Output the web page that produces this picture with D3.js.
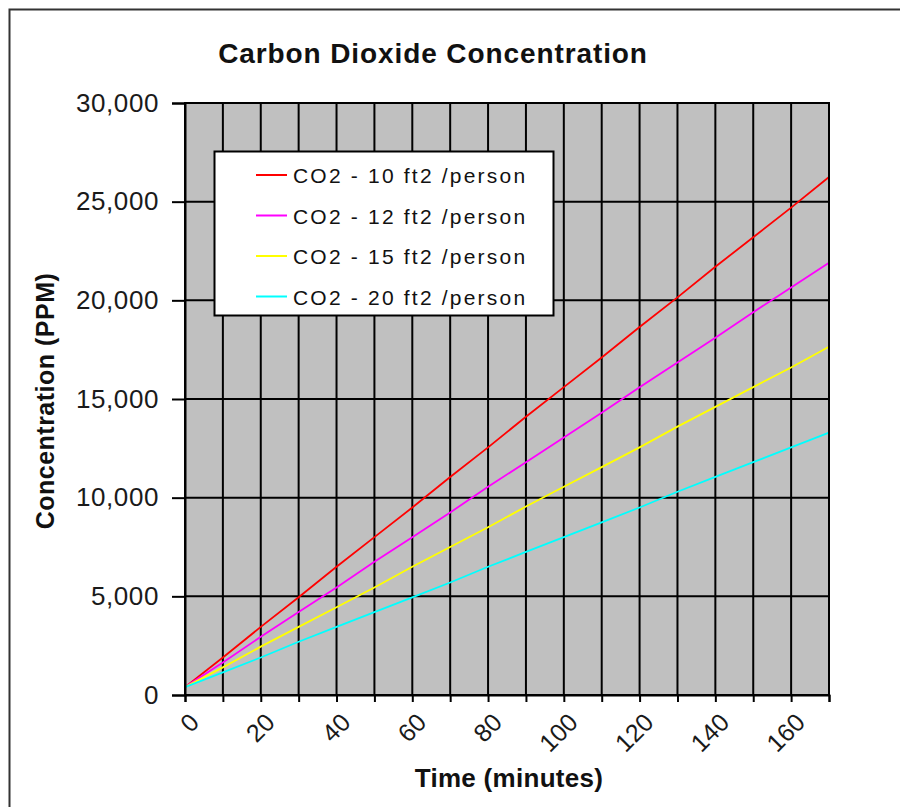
<!DOCTYPE html>
<html>
<head>
<meta charset="utf-8">
<script src="https://cdn.jsdelivr.net/npm/d3@7"></script>
<style>
  body { margin: 0; background: #fff; }
  svg { display: block; font-family: "Liberation Sans", Arial, sans-serif; }
</style>
</head>
<body>
<div id="chart"></div>
<script>
// time in minutes
var minutes = [0, 10, 20, 30, 40, 50, 60, 70, 80, 90, 100, 110, 120, 130, 140, 150, 160, 170];

// CO2 concentration (PPM)
var co2_10ft = [400, 1900, 3450, 4950, 6500, 8000, 9500, 11050, 12550, 14100, 15600, 17100, 18650, 20150, 21700, 23200, 24700, 26250];
var co2_12ft = [400, 1650, 2950, 4200, 5450, 6750, 8000, 9250, 10550, 11800, 13050, 14300, 15600, 16850, 18100, 19400, 20650, 21900];
var co2_15ft = [400, 1400, 2450, 3450, 4450, 5450, 6500, 7500, 8500, 9550, 10550, 11550, 12550, 13600, 14600, 15600, 16600, 17650];
var co2_20ft = [400, 1150, 1900, 2700, 3450, 4200, 4950, 5700, 6500, 7250, 8000, 8750, 9500, 10300, 11050, 11800, 12550, 13300];

var seriesNames = ["CO2 - 10 ft2 /person", "CO2 - 12 ft2 /person", "CO2 - 15 ft2 /person", "CO2 - 20 ft2 /person"];
var seriesColors = ["#ff0000", "#ff00ff", "#ffff00", "#00ffff"];

var yTicks = [0, 5000, 10000, 15000, 20000, 25000, 30000];
var xTicks = [0, 10, 20, 30, 40, 50, 60, 70, 80, 90, 100, 110, 120, 130, 140, 150, 160, 170];
var xLabels = [0, 20, 40, 60, 80, 100, 120, 140, 160];

function init(){

    var w = 900;
    var h = 807;
    var margin = {left: 185, right: 71, top: 103, bottom: 112};

    var svg = d3.select("#chart")
                .append("svg")
                .attr("width", w)
                .attr("height", h);

    // chart outer border (cut off at right and bottom in the source)
    svg.append("rect")
       .attr("x", 9.5).attr("y", 9.5)
       .attr("width", 950).attr("height", 900)
       .attr("fill", "#fff")
       .attr("stroke", "#333")
       .attr("stroke-width", 2);

    var x = d3.scaleLinear()
              .domain([0, 170])
              .range([margin.left, w - margin.right]);

    var y = d3.scaleLinear()
              .domain([0, 30000])
              .range([h - margin.bottom, margin.top]);

    // plot background
    svg.append("rect")
       .attr("x", x(0)).attr("y", y(30000))
       .attr("width", x(170) - x(0))
       .attr("height", y(0) - y(30000))
       .attr("fill", "#c0c0c0");

    // grid
    svg.append("g").selectAll("line")
       .data(xTicks)
       .enter().append("line")
       .attr("x1", function(d){ return x(d); })
       .attr("x2", function(d){ return x(d); })
       .attr("y1", y(0)).attr("y2", y(30000))
       .attr("stroke", "#000").attr("stroke-width", 2);

    svg.append("g").selectAll("line")
       .data(yTicks)
       .enter().append("line")
       .attr("x1", x(0)).attr("x2", x(170))
       .attr("y1", function(d){ return y(d); })
       .attr("y2", function(d){ return y(d); })
       .attr("stroke", "#000").attr("stroke-width", 2);

    // series
    var allSeries = [co2_10ft, co2_12ft, co2_15ft, co2_20ft];
    var line = d3.line()
                 .x(function(d, i){ return x(minutes[i]); })
                 .y(function(d){ return y(d); });

    svg.append("g").selectAll("path")
       .data(allSeries)
       .enter().append("path")
       .attr("d", line)
       .attr("fill", "none")
       .attr("stroke", function(d, i){ return seriesColors[i]; })
       .attr("stroke-width", 1.8);

    // axes
    var yAxis = d3.axisLeft(y)
                  .tickValues(yTicks)
                  .tickFormat(d3.format(","))
                  .tickSize(13)
                  .tickPadding(13);

    var gy = svg.append("g")
                .attr("transform", "translate(" + x(0) + ",0)")
                .call(yAxis);
    gy.select(".domain").attr("stroke", "#000").attr("stroke-width", 2);
    gy.selectAll(".tick line").attr("stroke", "#000").attr("stroke-width", 2);
    gy.selectAll(".tick text")
      .attr("font-size", 26)
      .attr("letter-spacing", 0.6)
      .attr("fill", "#1a1a1a");

    var xAxis = d3.axisBottom(x)
                  .tickValues(xTicks)
                  .tickFormat(function(d){ return xLabels.indexOf(d) >= 0 ? d : ""; })
                  .tickSize(7);

    var gx = svg.append("g")
                .attr("transform", "translate(0," + y(0) + ")")
                .call(xAxis);
    gx.select(".domain").attr("stroke", "#000").attr("stroke-width", 2);
    gx.selectAll(".tick line").attr("stroke", "#000").attr("stroke-width", 2);
    gx.selectAll(".tick text")
      .attr("font-size", 25)
      .attr("fill", "#1a1a1a")
      .attr("text-anchor", "end")
      .attr("dy", null)
      .attr("y", 0)
      .attr("transform", "translate(15,29) rotate(-45)");

    // plot outline on top/right
    svg.append("rect")
       .attr("x", x(0)).attr("y", y(30000))
       .attr("width", x(170) - x(0))
       .attr("height", y(0) - y(30000))
       .attr("fill", "none")
       .attr("stroke", "#000")
       .attr("stroke-width", 2);

    // titles
    svg.append("text")
       .attr("x", 433).attr("y", 63)
       .attr("text-anchor", "middle")
       .attr("font-size", 28)
       .attr("font-weight", "bold")
       .attr("letter-spacing", 0.9)
       .attr("fill", "#111")
       .text("Carbon Dioxide Concentration");

    svg.append("text")
       .attr("x", 509).attr("y", 787)
       .attr("text-anchor", "middle")
       .attr("font-size", 26)
       .attr("font-weight", "bold")
       .attr("letter-spacing", 0.3)
       .attr("fill", "#111")
       .text("Time (minutes)");

    svg.append("text")
       .attr("transform", "translate(54,401) rotate(-90)")
       .attr("text-anchor", "middle")
       .attr("font-size", 25)
       .attr("font-weight", "bold")
       .attr("letter-spacing", 0.5)
       .attr("fill", "#111")
       .text("Concentration (PPM)");

    // legend
    var legend = svg.append("g");
    legend.append("rect")
          .attr("x", 214.5).attr("y", 151.5)
          .attr("width", 339).attr("height", 164)
          .attr("fill", "#fff")
          .attr("stroke", "#000")
          .attr("stroke-width", 2);

    var items = legend.selectAll("g.item")
                      .data(seriesNames)
                      .enter().append("g")
                      .attr("class", "item")
                      .attr("transform", function(d, i){ return "translate(256," + (175 + i * 40.5) + ")"; });

    items.append("line")
         .attr("x1", 0).attr("x2", 31)
         .attr("y1", 0).attr("y2", 0)
         .attr("stroke", function(d, i){ return seriesColors[i]; })
         .attr("stroke-width", 2);

    items.append("text")
         .attr("x", 37).attr("y", 8)
         .attr("font-size", 21)
         .attr("letter-spacing", 2.2)
         .attr("fill", "#111")
         .text(function(d){ return d; });
}

window.onload = init;
</script>
</body>
</html>
